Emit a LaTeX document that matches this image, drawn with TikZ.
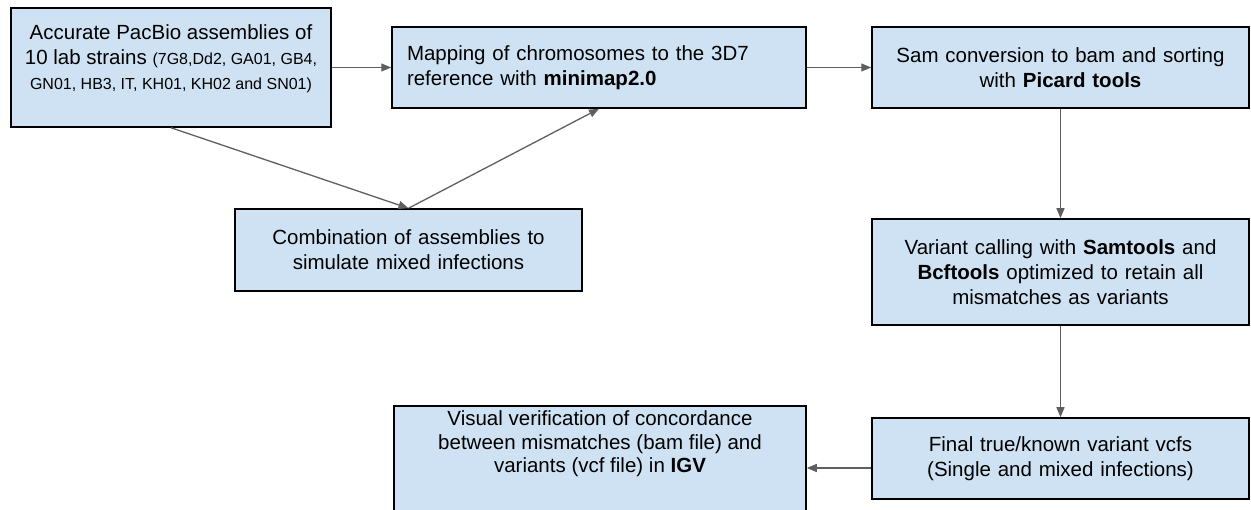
\documentclass[tikz,border=0pt]{standalone}
\usepackage{fontspec}
\setmainfont{Liberation Sans}
\usetikzlibrary{arrows.meta}
\definecolor{boxfill}{HTML}{CFE2F3}
\definecolor{arrgray}{HTML}{5F5F5F}
\tikzset{
  box/.style={draw=black, line width=1.5pt, fill=boxfill, rectangle, inner sep=0pt,
    font=\fontsize{20.5}{25}\selectfont, align=center},
  txt/.style={font=\fontsize{20.5}{25}\selectfont, align=center, inner sep=0pt},
  arr/.style={draw=arrgray, line width=1.3pt, -{Triangle[length=10pt,width=8pt]}},
}
\newcommand{\smallfs}{\fontsize{16}{25}\selectfont}
\begin{document}
\begin{tikzpicture}[x=1pt,y=-1pt]
\useasboundingbox (0,0) rectangle (1251,510);
% boxes
\node[box, minimum width=320pt, minimum height=119pt] (A) at (171,67.5) {};
\node[txt] (Atext) at (171,59) {Accurate PacBio assemblies of\\10 lab strains {\smallfs(7G8,Dd2, GA01, GB4,}\\{\smallfs GN01, HB3, IT, KH01, KH02 and SN01)}};
\node[box, minimum width=414pt, minimum height=81pt, text width=384pt, align=left] (B) at (599,67.5) {Mapping of chromosomes to the 3D7\\reference with \textbf{minimap2.0}};
\node[box, minimum width=377pt, minimum height=81pt, text width=360pt] (C) at (1060.5,67.5) {Sam conversion to bam and sorting\\with \textbf{Picard tools}};
\node[box, minimum width=347pt, minimum height=82pt, text width=330pt] (D) at (408.5,250) {Combination of assemblies to\\simulate mixed infections};
\node[box, minimum width=377pt, minimum height=106pt, text width=360pt] (E) at (1060.5,272) {Variant calling with \textbf{Samtools} and\\\textbf{Bcftools} optimized to retain all\\mismatches as variants};
\node[box, minimum width=377pt, minimum height=81pt, text width=360pt] (F) at (1060.5,458.5) {Final true/known variant vcfs\\(Single and mixed infections)};
\node[box, minimum width=412pt, minimum height=110pt] (G) at (600,461) {};
\node[txt, font=\fontsize{20.5}{23.5}\selectfont] (Gtext) at (600,444) {Visual verification of concordance\\between mismatches (bam file) and\\variants (vcf file) in \textbf{IGV}};
% connectors
\draw[arr] (A.east) -- (B.west);
\draw[arr] (B.east) -- (C.west);
\draw[arr] (C.south) -- (E.north);
\draw[arr] (E.south) -- (F.north);
\draw[arr] ([yshift=-9.5pt]F.west) -- ([yshift=-9.5pt]F.west -| G.east);
\draw[arr] (A.south) -- (D.north);
\draw[arr] (D.north) -- (B.south);
\end{tikzpicture}
\end{document}
